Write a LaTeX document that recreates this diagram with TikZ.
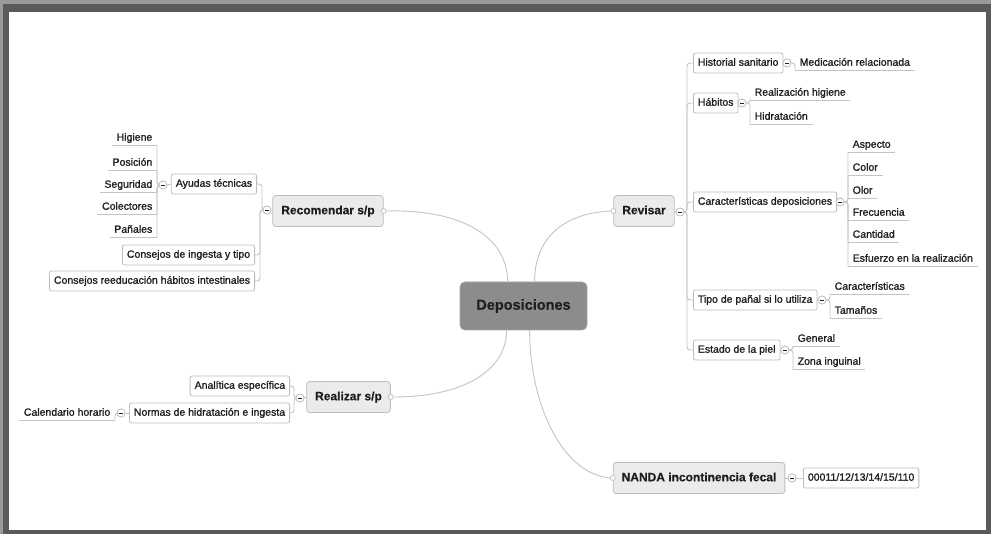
\documentclass[tikz,border=0pt]{standalone}
\usepackage{fontspec}
\setmainfont[FakeBold=0.5]{Liberation Sans}
\newfontfamily\leaffont[FakeBold=1.2]{Liberation Sans}
\usetikzlibrary{calc}
\definecolor{framedark}{HTML}{5A5A5A}
\definecolor{frameout}{HTML}{9A9A9A}
\definecolor{txt}{HTML}{1E1E1E}
\definecolor{conn}{HTML}{C4C4C4}
\definecolor{boxline}{HTML}{BDBDBD}
\definecolor{mainfill}{HTML}{EBEBEB}
\definecolor{cenfill}{HTML}{8C8C8C}
\begin{document}
\begin{tikzpicture}[x=1pt,y=-1pt,
  every node/.style={text=txt},
  cline/.style={draw=conn,line width=0.9pt},
  mainbox/.style={draw=boxline,fill=mainfill,rounded corners=3pt,line width=0.8pt,
    font=\fontsize{12}{14}\selectfont\bfseries,inner xsep=8.5pt,minimum height=31pt,
    text height=9pt,text depth=2.5pt},
  cenbox/.style={draw=gray!70,fill=cenfill,rounded corners=5pt,line width=0.8pt,
    font=\fontsize{14.5}{16}\selectfont\bfseries,minimum width=127pt,minimum height=48pt,
    text height=10.5pt,text depth=3pt},
  subbox/.style={draw=boxline,fill=white,rounded corners=2pt,line width=0.8pt,
    font=\fontsize{10.5}{12}\selectfont\leaffont,inner xsep=4.5pt,minimum height=20pt,
    text height=8pt,text depth=2.5pt},
  leaf/.style={font=\fontsize{10.5}{12}\selectfont\leaffont,inner xsep=4.5pt,inner ysep=2pt,
    text height=8pt,text depth=2.5pt},
  minus/.style={circle,draw=boxline,fill=white,line width=0.7pt,minimum size=8pt,inner sep=0pt,
    path picture={\draw[txt,line width=0.8pt] ([xshift=-1.6pt]path picture bounding box.center) -- ([xshift=1.6pt]path picture bounding box.center);}},
  dot/.style={circle,draw=boxline,fill=white,line width=0.7pt,minimum size=5pt,inner sep=0pt},
  uline/.style={draw=conn,line width=0.8pt},
  rc/.style={rounded corners=3pt}
]
% frame
\useasboundingbox (0,0) rectangle (991,534);
\fill[frameout] (0,0) rectangle (991,534);
\fill[framedark] (3,4) rectangle (991,534);
\fill[white] (9,12) rectangle (986,530);

% central
\node[cenbox] (cen) at (523.5,306) {Deposiciones};

% main topics
\node[mainbox] (rec) at (328,211) {Recomendar s/p};
\node[mainbox] (rev) at (644,211) {Revisar};
\node[mainbox] (rea) at (348.5,397) {Realizar s/p};
\node[mainbox] (nan) at (699,478) {NANDA incontinencia fecal};

\node[dot] (recdot) at (rec.east) {};
\node[dot] (revdot) at (rev.west) {};
\node[dot] (readot) at (rea.east) {};
\node[dot] (nandot) at (nan.west) {};

% curves to central
\draw[cline] (recdot.east) .. controls +(75,-2) and +(0,-45) .. ([xshift=48pt]cen.north west);
\draw[cline] (revdot.west) .. controls +(-45,2) and +(0,-45) .. ([xshift=75pt]cen.north west);
\draw[cline] (readot.east) .. controls +(70,0) and +(0,40) .. ([xshift=47pt]cen.south west);
\draw[cline] (nandot.west) .. controls +(-50,-5) and +(0,70) .. ([xshift=70pt]cen.south west);

% ---------- Recomendar ----------
\node[minus] (recm) at (267,210) {};
\node[subbox,anchor=east] (ay) at (257,184) {Ayudas técnicas};
\node[subbox,anchor=east] (ci) at (255,255) {Consejos de ingesta y tipo};
\node[subbox,anchor=east] (cr) at (255,281) {Consejos reeducación hábitos intestinales};
\foreach \c in {ay,ci,cr}{
  \draw[cline,rc] (recm.west) -| ([xshift=5pt]\c.east) -- (\c.east);
}
\node[minus] (aym) at (163,185) {};
\draw[cline] (aym.east) -- (ay.west);
\node[leaf,anchor=east] (l1) at (157,138) {Higiene};
\node[leaf,anchor=east] (l2) at (157,163) {Posición};
\node[leaf,anchor=east] (l3) at (157,185) {Seguridad};
\node[leaf,anchor=east] (l4) at (157,207) {Colectores};
\node[leaf,anchor=east] (l5) at (157,230) {Pañales};
\foreach \c in {l1,l2,l3,l4,l5}{
  \draw[uline] (\c.south east) -- (\c.south west);
  \draw[cline,rc] (aym.west) -| (\c.south east);
}

% ---------- Realizar ----------
\node[minus] (ream) at (300,398) {};
\draw[cline] (ream.east) -- (rea.west);
\node[subbox,anchor=east] (an) at (290,386) {Analítica específica};
\node[subbox,anchor=east] (no) at (290,413) {Normas de hidratación e ingesta};
\foreach \c in {an,no}{
  \draw[cline,rc] (ream.west) -| ([xshift=4pt]\c.east) -- (\c.east);
}
\node[minus] (nom) at (121,413) {};
\draw[cline] (nom.east) -- (no.west);
\node[leaf,anchor=east] (cal) at (115,413) {Calendario horario};
\draw[uline] (cal.south east) -- (cal.south west);
\draw[cline,rc] (nom.west) -| (cal.south east);

% ---------- Revisar ----------
\node[minus] (revm) at (680,212) {};
\draw[cline] (rev.east) -- (revm.west);
\node[subbox,anchor=west] (hs) at (693,63) {Historial sanitario};
\node[subbox,anchor=west] (hb) at (693,103) {Hábitos};
\node[subbox,anchor=west] (cd) at (693,202) {Características deposiciones};
\node[subbox,anchor=west] (tp) at (693,300) {Tipo de pañal si lo utiliza};
\node[subbox,anchor=west] (ep) at (693,350) {Estado de la piel};
\foreach \c in {hs,hb,cd,tp,ep}{
  \draw[cline,rc] (revm.east) -| ([xshift=-6pt]\c.west) -- (\c.west);
}
% Historial
\node[minus] (hsm) at (787,63) {};
\draw[cline] (hs.east) -- (hsm.west);
\node[leaf,anchor=west] (med) at (795,63) {Medicación relacionada};
\draw[uline] (med.south west) -- (med.south east);
\draw[cline,rc] (hsm.east) -| (med.south west);
% Habitos
\node[minus] (hbm) at (742,103) {};
\draw[cline] (hb.east) -- (hbm.west);
\node[leaf,anchor=west] (h1) at (750,93) {Realización higiene};
\node[leaf,anchor=west] (h2) at (750,117) {Hidratación};
\foreach \c in {h1,h2}{
  \draw[uline] (\c.south west) -- (\c.south east);
  \draw[cline,rc] (hbm.east) -| (\c.south west);
}
% Caracteristicas
\node[minus] (cdm) at (840,202) {};
\draw[cline] (cd.east) -- (cdm.west);
\node[leaf,anchor=west] (c1) at (848,145) {Aspecto};
\node[leaf,anchor=west] (c2) at (848,168) {Color};
\node[leaf,anchor=west] (c3) at (848,191) {Olor};
\node[leaf,anchor=west] (c4) at (848,213) {Frecuencia};
\node[leaf,anchor=west] (c5) at (848,235) {Cantidad};
\node[leaf,anchor=west] (c6) at (848,259) {Esfuerzo en la realización};
\foreach \c in {c1,c2,c3,c4,c5,c6}{
  \draw[uline] (\c.south west) -- (\c.south east);
  \draw[cline,rc] (cdm.east) -| (\c.south west);
}
% Tipo de panal
\node[minus] (tpm) at (822,300) {};
\draw[cline] (tp.east) -- (tpm.west);
\node[leaf,anchor=west] (t1) at (830,287) {Características};
\node[leaf,anchor=west] (t2) at (830,311) {Tamaños};
\foreach \c in {t1,t2}{
  \draw[uline] (\c.south west) -- (\c.south east);
  \draw[cline,rc] (tpm.east) -| (\c.south west);
}
% Estado de la piel
\node[minus] (epm) at (785,350) {};
\draw[cline] (ep.east) -- (epm.west);
\node[leaf,anchor=west] (e1) at (793,339) {General};
\node[leaf,anchor=west] (e2) at (793,362) {Zona inguinal};
\foreach \c in {e1,e2}{
  \draw[uline] (\c.south west) -- (\c.south east);
  \draw[cline,rc] (epm.east) -| (\c.south west);
}

% ---------- NANDA ----------
\node[minus] (nanm) at (792,478) {};
\draw[cline] (nan.east) -- (nanm.west);
\node[subbox,anchor=west] (code) at (803,478) {00011/12/13/14/15/110};
\draw[cline] (nanm.east) -- (code.west);

% redraw minus markers on top
\foreach \m in {recm,aym,ream,nom,revm,hsm,hbm,cdm,tpm,epm,nanm}{
  \node[minus] at (\m) {};
}
\end{tikzpicture}
\end{document}
